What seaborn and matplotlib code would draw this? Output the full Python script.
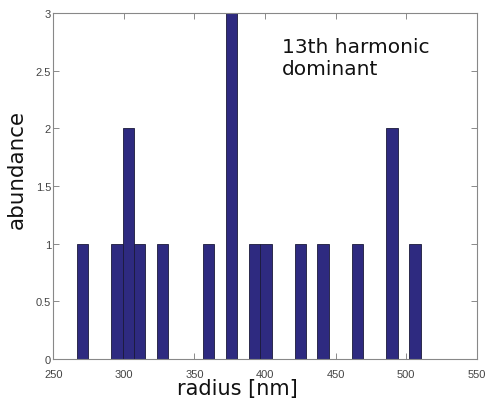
import numpy as np
import pandas as pd
import matplotlib
matplotlib.use("Agg")
import matplotlib.pyplot as plt
import seaborn as sns

# Histogram of particle radii: 30 equal bins spanning the measured range
bin_lo = 266.6
bin_hi = 510.3
n_bins = 30
# Occupied bins (index into the 30 bins) and how many particles fall in each
bin_index = [0, 3, 4, 5, 7, 11, 13, 15, 16, 19, 21, 24, 27, 29]
bin_count = [1, 1, 2, 1, 1, 1, 3, 1, 1, 1, 1, 1, 2, 1]

x_ticks = [250, 300, 350, 400, 450, 500, 550]
y_ticks = [0, 0.5, 1, 1.5, 2, 2.5, 3]
y_tick_labels = ["0", "0.5", "1", "1.5", "2", "2.5", "3"]

edges = np.linspace(bin_lo, bin_hi, n_bins + 1)
centers = (edges[:-1] + edges[1:]) / 2
df = pd.DataFrame({
    "radius": centers[bin_index],
    "count": bin_count,
})

sns.set_style("white")
plt.rcParams["font.family"] = ["DejaVu Sans"]

fig = plt.figure(figsize=(4.88, 4.02), dpi=100)
ax = fig.add_axes([0.109, 0.1045, 0.868, 0.8605])

sns.histplot(data=df, x="radius", weights="count", bins=n_bins,
             binrange=(bin_lo, bin_hi), ax=ax,
             color="#2e2a80", alpha=1.0, edgecolor="#1a1a3a", linewidth=0.6)

ax.set_xlim(250, 550)
ax.set_ylim(0, 3)
ax.set_xticks(x_ticks)
ax.set_yticks(y_ticks)
ax.set_yticklabels(y_tick_labels)
ax.tick_params(direction="in", length=4, width=0.6, colors="#777777",
               labelcolor="#444444", labelsize=8,
               top=True, right=True, bottom=True, left=True)
ax.tick_params(axis="x", pad=7)
ax.tick_params(axis="y", pad=1.5)
for lbl in ax.get_xticklabels() + ax.get_yticklabels():
    lbl.set_family("Liberation Sans")
for s in ax.spines.values():
    s.set_color("#888888")
    s.set_linewidth(0.8)

ax.set_xlabel("radius [nm]", fontsize=15, color="#111111")
ax.set_ylabel("abundance", fontsize=15.4, color="#111111")
ax.xaxis.set_label_coords(0.435, -0.055)
ax.yaxis.set_label_coords(-0.062, 0.552)

ax.text(0.54, 0.93, "13th harmonic\ndominant", transform=ax.transAxes,
        fontsize=14.5, color="#111111", va="top", ha="left", linespacing=1.2)

fig.savefig("out.png", dpi=100)
